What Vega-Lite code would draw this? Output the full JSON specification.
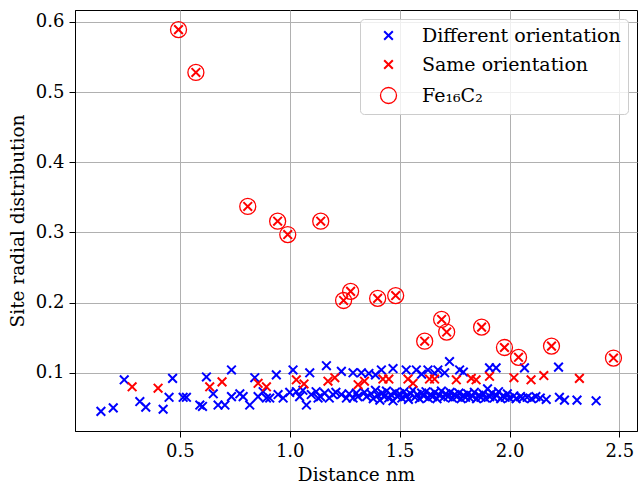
{
  "$schema": "https://vega.github.io/schema/vega-lite/v6.json",
  "autosize": {"type": "none"},
  "width": 562,
  "height": 421,
  "padding": {"left": 75, "top": 10, "right": 2, "bottom": 54},
  "background": "white",
  "config": {
    "font": "DejaVu Serif",
    "view": {"stroke": "black", "strokeWidth": 1},
    "axis": {
      "labelFont": "DejaVu Serif", "labelFontSize": 18, "labelColor": "black",
      "titleFont": "DejaVu Serif", "titleFontSize": 18.5, "titleFontWeight": "normal", "titleColor": "black",
      "grid": true, "gridColor": "#b0b0b0", "gridWidth": 1,
      "domainColor": "black", "tickColor": "black", "tickSize": 6, "tickWidth": 1, "labelPadding": 5
    },
    "legend": {
      "labelFont": "DejaVu Serif", "labelFontSize": 19, "labelColor": "black", "labelLimit": 400
    }
  },
  "data": {
    "values": [
      {"d": 0.141, "r": 0.045, "s": "Different orientation"},
      {"d": 0.197, "r": 0.050, "s": "Different orientation"},
      {"d": 0.247, "r": 0.090, "s": "Different orientation"},
      {"d": 0.318, "r": 0.059, "s": "Different orientation"},
      {"d": 0.345, "r": 0.051, "s": "Different orientation"},
      {"d": 0.424, "r": 0.048, "s": "Different orientation"},
      {"d": 0.451, "r": 0.065, "s": "Different orientation"},
      {"d": 0.467, "r": 0.092, "s": "Different orientation"},
      {"d": 0.515, "r": 0.065, "s": "Different orientation"},
      {"d": 0.530, "r": 0.065, "s": "Different orientation"},
      {"d": 0.591, "r": 0.054, "s": "Different orientation"},
      {"d": 0.603, "r": 0.052, "s": "Different orientation"},
      {"d": 0.621, "r": 0.094, "s": "Different orientation"},
      {"d": 0.652, "r": 0.070, "s": "Different orientation"},
      {"d": 0.674, "r": 0.054, "s": "Different orientation"},
      {"d": 0.705, "r": 0.054, "s": "Different orientation"},
      {"d": 0.735, "r": 0.104, "s": "Different orientation"},
      {"d": 0.735, "r": 0.066, "s": "Different orientation"},
      {"d": 0.773, "r": 0.070, "s": "Different orientation"},
      {"d": 0.788, "r": 0.066, "s": "Different orientation"},
      {"d": 0.818, "r": 0.054, "s": "Different orientation"},
      {"d": 0.841, "r": 0.093, "s": "Different orientation"},
      {"d": 0.856, "r": 0.066, "s": "Different orientation"},
      {"d": 0.879, "r": 0.073, "s": "Different orientation"},
      {"d": 0.894, "r": 0.064, "s": "Different orientation"},
      {"d": 0.909, "r": 0.064, "s": "Different orientation"},
      {"d": 0.939, "r": 0.097, "s": "Different orientation"},
      {"d": 0.947, "r": 0.069, "s": "Different orientation"},
      {"d": 0.970, "r": 0.064, "s": "Different orientation"},
      {"d": 1.000, "r": 0.072, "s": "Different orientation"},
      {"d": 1.015, "r": 0.104, "s": "Different orientation"},
      {"d": 1.030, "r": 0.073, "s": "Different orientation"},
      {"d": 1.045, "r": 0.066, "s": "Different orientation"},
      {"d": 1.060, "r": 0.075, "s": "Different orientation"},
      {"d": 1.076, "r": 0.054, "s": "Different orientation"},
      {"d": 1.091, "r": 0.100, "s": "Different orientation"},
      {"d": 1.098, "r": 0.069, "s": "Different orientation"},
      {"d": 1.120, "r": 0.073, "s": "Different orientation"},
      {"d": 1.129, "r": 0.064, "s": "Different orientation"},
      {"d": 1.140, "r": 0.066, "s": "Different orientation"},
      {"d": 1.159, "r": 0.071, "s": "Different orientation"},
      {"d": 1.167, "r": 0.110, "s": "Different orientation"},
      {"d": 1.180, "r": 0.064, "s": "Different orientation"},
      {"d": 1.197, "r": 0.069, "s": "Different orientation"},
      {"d": 1.210, "r": 0.072, "s": "Different orientation"},
      {"d": 1.235, "r": 0.102, "s": "Different orientation"},
      {"d": 1.235, "r": 0.069, "s": "Different orientation"},
      {"d": 1.258, "r": 0.064, "s": "Different orientation"},
      {"d": 1.270, "r": 0.070, "s": "Different orientation"},
      {"d": 1.288, "r": 0.100, "s": "Different orientation"},
      {"d": 1.288, "r": 0.064, "s": "Different orientation"},
      {"d": 1.303, "r": 0.071, "s": "Different orientation"},
      {"d": 1.310, "r": 0.066, "s": "Different orientation"},
      {"d": 1.326, "r": 0.100, "s": "Different orientation"},
      {"d": 1.340, "r": 0.072, "s": "Different orientation"},
      {"d": 1.350, "r": 0.066, "s": "Different orientation"},
      {"d": 1.360, "r": 0.099, "s": "Different orientation"},
      {"d": 1.370, "r": 0.070, "s": "Different orientation"},
      {"d": 1.380, "r": 0.063, "s": "Different orientation"},
      {"d": 1.390, "r": 0.075, "s": "Different orientation"},
      {"d": 1.390, "r": 0.097, "s": "Different orientation"},
      {"d": 1.400, "r": 0.068, "s": "Different orientation"},
      {"d": 1.410, "r": 0.061, "s": "Different orientation"},
      {"d": 1.417, "r": 0.104, "s": "Different orientation"},
      {"d": 1.420, "r": 0.071, "s": "Different orientation"},
      {"d": 1.430, "r": 0.066, "s": "Different orientation"},
      {"d": 1.440, "r": 0.074, "s": "Different orientation"},
      {"d": 1.450, "r": 0.064, "s": "Different orientation"},
      {"d": 1.460, "r": 0.069, "s": "Different orientation"},
      {"d": 1.470, "r": 0.060, "s": "Different orientation"},
      {"d": 1.470, "r": 0.106, "s": "Different orientation"},
      {"d": 1.480, "r": 0.072, "s": "Different orientation"},
      {"d": 1.490, "r": 0.066, "s": "Different orientation"},
      {"d": 1.500, "r": 0.070, "s": "Different orientation"},
      {"d": 1.510, "r": 0.064, "s": "Different orientation"},
      {"d": 1.520, "r": 0.073, "s": "Different orientation"},
      {"d": 1.530, "r": 0.104, "s": "Different orientation"},
      {"d": 1.530, "r": 0.067, "s": "Different orientation"},
      {"d": 1.540, "r": 0.062, "s": "Different orientation"},
      {"d": 1.550, "r": 0.070, "s": "Different orientation"},
      {"d": 1.560, "r": 0.075, "s": "Different orientation"},
      {"d": 1.570, "r": 0.065, "s": "Different orientation"},
      {"d": 1.576, "r": 0.104, "s": "Different orientation"},
      {"d": 1.580, "r": 0.069, "s": "Different orientation"},
      {"d": 1.590, "r": 0.063, "s": "Different orientation"},
      {"d": 1.600, "r": 0.071, "s": "Different orientation"},
      {"d": 1.600, "r": 0.098, "s": "Different orientation"},
      {"d": 1.610, "r": 0.067, "s": "Different orientation"},
      {"d": 1.620, "r": 0.073, "s": "Different orientation"},
      {"d": 1.629, "r": 0.104, "s": "Different orientation"},
      {"d": 1.630, "r": 0.064, "s": "Different orientation"},
      {"d": 1.640, "r": 0.069, "s": "Different orientation"},
      {"d": 1.650, "r": 0.066, "s": "Different orientation"},
      {"d": 1.660, "r": 0.072, "s": "Different orientation"},
      {"d": 1.660, "r": 0.099, "s": "Different orientation"},
      {"d": 1.670, "r": 0.063, "s": "Different orientation"},
      {"d": 1.674, "r": 0.104, "s": "Different orientation"},
      {"d": 1.680, "r": 0.068, "s": "Different orientation"},
      {"d": 1.690, "r": 0.074, "s": "Different orientation"},
      {"d": 1.700, "r": 0.065, "s": "Different orientation"},
      {"d": 1.705, "r": 0.100, "s": "Different orientation"},
      {"d": 1.710, "r": 0.070, "s": "Different orientation"},
      {"d": 1.720, "r": 0.066, "s": "Different orientation"},
      {"d": 1.727, "r": 0.116, "s": "Different orientation"},
      {"d": 1.730, "r": 0.072, "s": "Different orientation"},
      {"d": 1.740, "r": 0.064, "s": "Different orientation"},
      {"d": 1.750, "r": 0.069, "s": "Different orientation"},
      {"d": 1.760, "r": 0.066, "s": "Different orientation"},
      {"d": 1.770, "r": 0.071, "s": "Different orientation"},
      {"d": 1.773, "r": 0.104, "s": "Different orientation"},
      {"d": 1.780, "r": 0.063, "s": "Different orientation"},
      {"d": 1.790, "r": 0.068, "s": "Different orientation"},
      {"d": 1.790, "r": 0.101, "s": "Different orientation"},
      {"d": 1.800, "r": 0.065, "s": "Different orientation"},
      {"d": 1.810, "r": 0.070, "s": "Different orientation"},
      {"d": 1.820, "r": 0.064, "s": "Different orientation"},
      {"d": 1.830, "r": 0.067, "s": "Different orientation"},
      {"d": 1.840, "r": 0.072, "s": "Different orientation"},
      {"d": 1.850, "r": 0.063, "s": "Different orientation"},
      {"d": 1.860, "r": 0.068, "s": "Different orientation"},
      {"d": 1.870, "r": 0.065, "s": "Different orientation"},
      {"d": 1.880, "r": 0.070, "s": "Different orientation"},
      {"d": 1.890, "r": 0.064, "s": "Different orientation"},
      {"d": 1.900, "r": 0.077, "s": "Different orientation"},
      {"d": 1.909, "r": 0.107, "s": "Different orientation"},
      {"d": 1.910, "r": 0.066, "s": "Different orientation"},
      {"d": 1.920, "r": 0.071, "s": "Different orientation"},
      {"d": 1.930, "r": 0.064, "s": "Different orientation"},
      {"d": 1.939, "r": 0.107, "s": "Different orientation"},
      {"d": 1.940, "r": 0.068, "s": "Different orientation"},
      {"d": 1.950, "r": 0.073, "s": "Different orientation"},
      {"d": 1.960, "r": 0.063, "s": "Different orientation"},
      {"d": 1.970, "r": 0.067, "s": "Different orientation"},
      {"d": 1.980, "r": 0.065, "s": "Different orientation"},
      {"d": 1.990, "r": 0.070, "s": "Different orientation"},
      {"d": 2.000, "r": 0.064, "s": "Different orientation"},
      {"d": 2.020, "r": 0.067, "s": "Different orientation"},
      {"d": 2.030, "r": 0.063, "s": "Different orientation"},
      {"d": 2.050, "r": 0.066, "s": "Different orientation"},
      {"d": 2.060, "r": 0.064, "s": "Different orientation"},
      {"d": 2.068, "r": 0.107, "s": "Different orientation"},
      {"d": 2.080, "r": 0.065, "s": "Different orientation"},
      {"d": 2.100, "r": 0.063, "s": "Different orientation"},
      {"d": 2.120, "r": 0.066, "s": "Different orientation"},
      {"d": 2.140, "r": 0.064, "s": "Different orientation"},
      {"d": 2.167, "r": 0.062, "s": "Different orientation"},
      {"d": 2.223, "r": 0.108, "s": "Different orientation"},
      {"d": 2.227, "r": 0.065, "s": "Different orientation"},
      {"d": 2.250, "r": 0.061, "s": "Different orientation"},
      {"d": 2.307, "r": 0.061, "s": "Different orientation"},
      {"d": 2.394, "r": 0.060, "s": "Different orientation"},
      {"d": 0.283, "r": 0.080, "s": "Same orientation"},
      {"d": 0.401, "r": 0.078, "s": "Same orientation"},
      {"d": 0.636, "r": 0.080, "s": "Same orientation"},
      {"d": 0.692, "r": 0.087, "s": "Same orientation"},
      {"d": 0.856, "r": 0.085, "s": "Same orientation"},
      {"d": 0.894, "r": 0.080, "s": "Same orientation"},
      {"d": 1.030, "r": 0.090, "s": "Same orientation"},
      {"d": 1.065, "r": 0.084, "s": "Same orientation"},
      {"d": 1.174, "r": 0.088, "s": "Same orientation"},
      {"d": 1.205, "r": 0.093, "s": "Same orientation"},
      {"d": 1.311, "r": 0.083, "s": "Same orientation"},
      {"d": 1.340, "r": 0.088, "s": "Same orientation"},
      {"d": 1.424, "r": 0.091, "s": "Same orientation"},
      {"d": 1.451, "r": 0.091, "s": "Same orientation"},
      {"d": 1.538, "r": 0.091, "s": "Same orientation"},
      {"d": 1.561, "r": 0.085, "s": "Same orientation"},
      {"d": 1.636, "r": 0.091, "s": "Same orientation"},
      {"d": 1.659, "r": 0.091, "s": "Same orientation"},
      {"d": 1.758, "r": 0.090, "s": "Same orientation"},
      {"d": 1.826, "r": 0.092, "s": "Same orientation"},
      {"d": 1.848, "r": 0.090, "s": "Same orientation"},
      {"d": 1.909, "r": 0.095, "s": "Same orientation"},
      {"d": 2.020, "r": 0.093, "s": "Same orientation"},
      {"d": 2.098, "r": 0.090, "s": "Same orientation"},
      {"d": 2.156, "r": 0.096, "s": "Same orientation"},
      {"d": 2.318, "r": 0.092, "s": "Same orientation"},
      {"d": 0.494, "r": 0.589, "s": "Same orientation"},
      {"d": 0.573, "r": 0.528, "s": "Same orientation"},
      {"d": 0.809, "r": 0.337, "s": "Same orientation"},
      {"d": 0.945, "r": 0.316, "s": "Same orientation"},
      {"d": 0.991, "r": 0.297, "s": "Same orientation"},
      {"d": 1.141, "r": 0.316, "s": "Same orientation"},
      {"d": 1.245, "r": 0.203, "s": "Same orientation"},
      {"d": 1.277, "r": 0.216, "s": "Same orientation"},
      {"d": 1.400, "r": 0.206, "s": "Same orientation"},
      {"d": 1.482, "r": 0.210, "s": "Same orientation"},
      {"d": 1.614, "r": 0.145, "s": "Same orientation"},
      {"d": 1.691, "r": 0.176, "s": "Same orientation"},
      {"d": 1.714, "r": 0.158, "s": "Same orientation"},
      {"d": 1.873, "r": 0.165, "s": "Same orientation"},
      {"d": 1.977, "r": 0.136, "s": "Same orientation"},
      {"d": 2.041, "r": 0.122, "s": "Same orientation"},
      {"d": 2.191, "r": 0.138, "s": "Same orientation"},
      {"d": 2.473, "r": 0.121, "s": "Same orientation"},
      {"d": 0.494, "r": 0.589, "s": "Fe₁₆C₂"},
      {"d": 0.573, "r": 0.528, "s": "Fe₁₆C₂"},
      {"d": 0.809, "r": 0.337, "s": "Fe₁₆C₂"},
      {"d": 0.945, "r": 0.316, "s": "Fe₁₆C₂"},
      {"d": 0.991, "r": 0.297, "s": "Fe₁₆C₂"},
      {"d": 1.141, "r": 0.316, "s": "Fe₁₆C₂"},
      {"d": 1.245, "r": 0.203, "s": "Fe₁₆C₂"},
      {"d": 1.277, "r": 0.216, "s": "Fe₁₆C₂"},
      {"d": 1.400, "r": 0.206, "s": "Fe₁₆C₂"},
      {"d": 1.482, "r": 0.210, "s": "Fe₁₆C₂"},
      {"d": 1.614, "r": 0.145, "s": "Fe₁₆C₂"},
      {"d": 1.691, "r": 0.176, "s": "Fe₁₆C₂"},
      {"d": 1.714, "r": 0.158, "s": "Fe₁₆C₂"},
      {"d": 1.873, "r": 0.165, "s": "Fe₁₆C₂"},
      {"d": 1.977, "r": 0.136, "s": "Fe₁₆C₂"},
      {"d": 2.041, "r": 0.122, "s": "Fe₁₆C₂"},
      {"d": 2.191, "r": 0.138, "s": "Fe₁₆C₂"},
      {"d": 2.473, "r": 0.121, "s": "Fe₁₆C₂"}
    ]
  },
  "mark": {"type": "point", "filled": false, "opacity": 1},
  "encoding": {
    "x": {
      "field": "d", "type": "quantitative",
      "scale": {"domain": [0.023, 2.58], "nice": false, "zero": false},
      "axis": {"title": "Distance nm", "values": [0.5, 1.0, 1.5, 2.0, 2.5], "format": ".1f", "titlePadding": 5}
    },
    "y": {
      "field": "r", "type": "quantitative",
      "scale": {"domain": [0.017, 0.617], "nice": false, "zero": false},
      "axis": {"title": "Site radial distribution", "values": [0.1, 0.2, 0.3, 0.4, 0.5, 0.6], "format": ".1f", "titlePadding": 8}
    },
    "color": {
      "field": "s", "type": "nominal",
      "scale": {"domain": ["Different orientation", "Same orientation", "Fe₁₆C₂"], "range": ["#0000ff", "#ff0000", "#ff0000"]},
      "legend": {
        "title": null, "orient": "top-right", "offset": 9,
        "strokeColor": "#cccccc", "fillColor": "rgba(255,255,255,0.8)", "cornerRadius": 4,
        "padding": 7, "rowPadding": 9, "symbolOffset": 12, "labelOffset": 24
      }
    },
    "shape": {
      "field": "s", "type": "nominal",
      "scale": {"domain": ["Different orientation", "Same orientation", "Fe₁₆C₂"], "range": ["M-1,-1L1,1M1,-1L-1,1", "M-1,-1L1,1M1,-1L-1,1", "circle"]}
    },
    "size": {
      "field": "s", "type": "nominal",
      "scale": {"type": "ordinal", "domain": ["Different orientation", "Same orientation", "Fe₁₆C₂"], "range": [75, 75, 256]}
    },
    "strokeWidth": {
      "field": "s", "type": "nominal",
      "scale": {"type": "ordinal", "domain": ["Different orientation", "Same orientation", "Fe₁₆C₂"], "range": [2, 2, 1.3]}
    }
  }
}
